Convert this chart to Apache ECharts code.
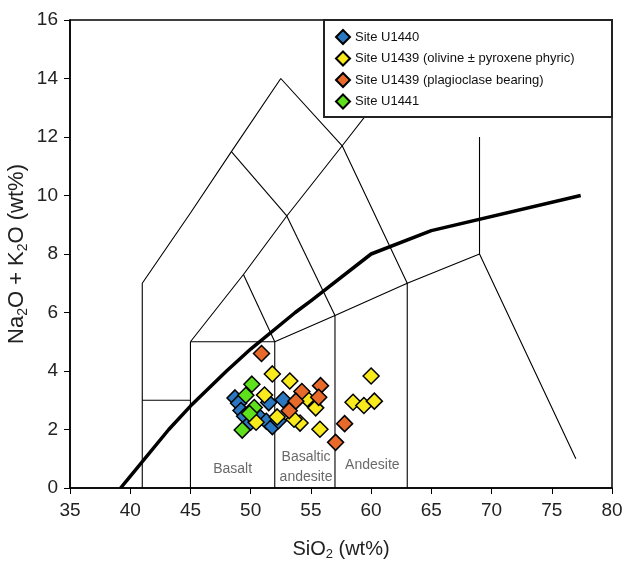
<!DOCTYPE html>
<html>
<head>
<meta charset="utf-8">
<script src="https://cdn.jsdelivr.net/npm/echarts@6/dist/echarts.min.js"></script>
<style>
  html, body { margin: 0; padding: 0; background: #fff; }
  #chart { width: 626px; height: 563px; }
</style>
</head>
<body>
<div id="chart"></div>
<script>
// Total alkali vs. silica (TAS) plot, SiO2 vs Na2O + K2O, wt%

// Axis ranges and ticks
const xTicks = [35, 40, 45, 50, 55, 60, 65, 70, 75, 80];
const yTicks = [0, 2, 4, 6, 8, 10, 12, 14, 16];

// Sample analyses [SiO2, Na2O+K2O]
const siteU1440 = [
  [48.7, 3.08], [49.0, 2.9], [49.2, 2.65], [49.5, 2.45], [50.0, 2.25],
  [50.8, 2.4], [51.3, 2.28], [51.5, 2.92], [51.8, 2.1], [52.3, 2.3], [52.7, 3.02]
];
const siteU1439Olivine = [
  [51.8, 3.9], [53.25, 3.66], [51.15, 3.18], [60.0, 3.83], [58.5, 2.93],
  [59.4, 2.82], [60.27, 2.97], [55.4, 2.74], [55.75, 2.01], [54.1, 2.22],
  [53.6, 2.35], [52.2, 2.43], [50.45, 2.25], [54.7, 3.05]
];
const siteU1439Plag = [
  [50.9, 4.6], [55.8, 3.5], [54.25, 3.3], [55.65, 3.1], [53.75, 2.97],
  [53.2, 2.64], [57.8, 2.2], [57.05, 1.56]
];
const siteU1441 = [
  [50.1, 3.55], [49.6, 3.17], [50.3, 2.75], [49.9, 2.55], [49.3, 1.98]
];

const seriesNames = [
  'Site U1440',
  'Site U1439 (olivine \u00b1 pyroxene phyric)',
  'Site U1439 (plagioclase bearing)',
  'Site U1441'
];
const seriesColors = ['#2b78c2', '#f8ea1d', '#e86a2b', '#5ee01c'];
const seriesData = [siteU1440, siteU1439Olivine, siteU1439Plag, siteU1441];

// TAS field boundaries (Le Bas et al., 1986)
const fieldLines = [
  [[41, 0], [41, 7], [45, 9.4], [48.4, 11.5], [52.5, 14], [57.6, 11.7], [63, 7], [69, 8], [77, 1]],
  [[41, 3], [45, 3]],
  [[45, 0], [45, 5], [52, 5], [52, 0]],
  [[52, 5], [57, 5.9], [57, 0]],
  [[57, 5.9], [63, 7], [63, 0]],
  [[45, 5], [49.4, 7.3], [53, 9.3], [57.6, 11.7], [61, 13.5]],
  [[49.4, 7.3], [52, 5]],
  [[53, 9.3], [57, 5.9]],
  [[48.4, 11.5], [53, 9.3]],
  [[69, 8], [69, 12]]
];

// Alkaline / subalkaline divide
const alkalineDivide = [
  [39.2, 0], [40, 0.4], [43.2, 2], [45, 2.8], [48, 4], [50, 4.75],
  [53.7, 6], [55, 6.4], [60, 8], [65, 8.8], [77.4, 10]
];

// Field names
const fieldLabels = [
  { name: 'Basalt', at: [48.5, 0.66] },
  { name: 'Basaltic\nandesite', at: [54.6, 0.72] },
  { name: 'Andesite', at: [60.1, 0.78] }
];

const font = '"Liberation Sans", Arial, Helvetica, sans-serif';

const series = [];
fieldLines.forEach(function (pts) {
  series.push({
    type: 'line', data: pts, symbol: 'none', silent: true, z: 1,
    lineStyle: { color: '#000', width: 1.1 }, animation: false
  });
});
series.push({
  type: 'line', data: alkalineDivide, symbol: 'none', silent: true, z: 1,
  lineStyle: { color: '#000', width: 3.5, join: 'round' }, animation: false
});
series.push({
  type: 'scatter', silent: true, symbolSize: 0, z: 1, animation: false,
  data: fieldLabels.map(function (f) { return { value: f.at, name: f.name }; }),
  label: {
    show: true, position: 'inside', formatter: function (p) { return p.name; },
    color: '#444', fontSize: 14, fontFamily: font, lineHeight: 20, align: 'center'
  }
});
seriesData.forEach(function (d, i) {
  series.push({
    name: seriesNames[i], type: 'scatter', data: d, symbol: 'diamond', symbolSize: 16,
    z: 2 + i, animation: false,
    itemStyle: { color: seriesColors[i], borderColor: '#000', borderWidth: 1.5, opacity: 1 }
  });
});

const xTitleRich = {
  a: { fontSize: 20, fontFamily: font, color: '#222' },
  s: { fontSize: 13, fontFamily: font, color: '#222', padding: [11, 0, 0, 0] }
};
const yTitleRich = {
  a: { fontSize: 22, fontFamily: font, color: '#222' },
  s: { fontSize: 14, fontFamily: font, color: '#222', padding: [12, 0, 0, 0] }
};

const chart = echarts.init(document.getElementById('chart'), null, { renderer: 'canvas' });
chart.setOption({
  backgroundColor: '#fff',
  animation: false,
  grid: {
    left: 70, right: 14, top: 20, bottom: 75, containLabel: false, outerBoundsMode: 'none',
    show: true, borderColor: '#000', borderWidth: 1.5, backgroundColor: 'transparent'
  },
  xAxis: {
    type: 'value', min: xTicks[0], max: xTicks[xTicks.length - 1], interval: 5,
    name: '{a|SiO}{s|2}{a| (wt%)}', nameLocation: 'middle', nameGap: 49, nameMoveOverlap: false,
    nameTextStyle: { rich: xTitleRich },
    axisLine: { onZero: false, lineStyle: { color: '#000', width: 1.5 } },
    axisTick: { show: true, inside: false, length: 6, lineStyle: { color: '#000', width: 1 } },
    axisLabel: { fontSize: 19, fontFamily: font, color: '#222', margin: 13 },
    splitLine: { show: false }
  },
  yAxis: {
    type: 'value', min: yTicks[0], max: yTicks[yTicks.length - 1], interval: 2,
    name: '{a|Na}{s|2}{a|O + K}{s|2}{a|O (wt%)}', nameLocation: 'middle', nameGap: 40, nameMoveOverlap: false,
    nameTextStyle: { rich: yTitleRich },
    axisLine: { onZero: false, lineStyle: { color: '#000', width: 1.5 } },
    axisTick: { show: true, inside: false, length: 6, lineStyle: { color: '#000', width: 1 } },
    axisLabel: { fontSize: 19, fontFamily: font, color: '#222', margin: 12 },
    splitLine: { show: false }
  },
  legend: {
    orient: 'vertical', left: 330, top: 24, z: 10,
    itemWidth: 14, itemHeight: 14, itemGap: 5.5,
    data: seriesNames.map(function (n) { return { name: n, icon: 'diamond' }; }),
    textStyle: { fontSize: 13, fontFamily: font, color: '#111' },
    selectedMode: false
  },
  graphic: {
    elements: [{
      type: 'rect', z: 5, silent: true,
      shape: { x: 324, y: 20, width: 288, height: 97 },
      style: { fill: '#fff', stroke: '#222', lineWidth: 2 }
    }]
  },
  series: series
});
</script>
</body>
</html>
